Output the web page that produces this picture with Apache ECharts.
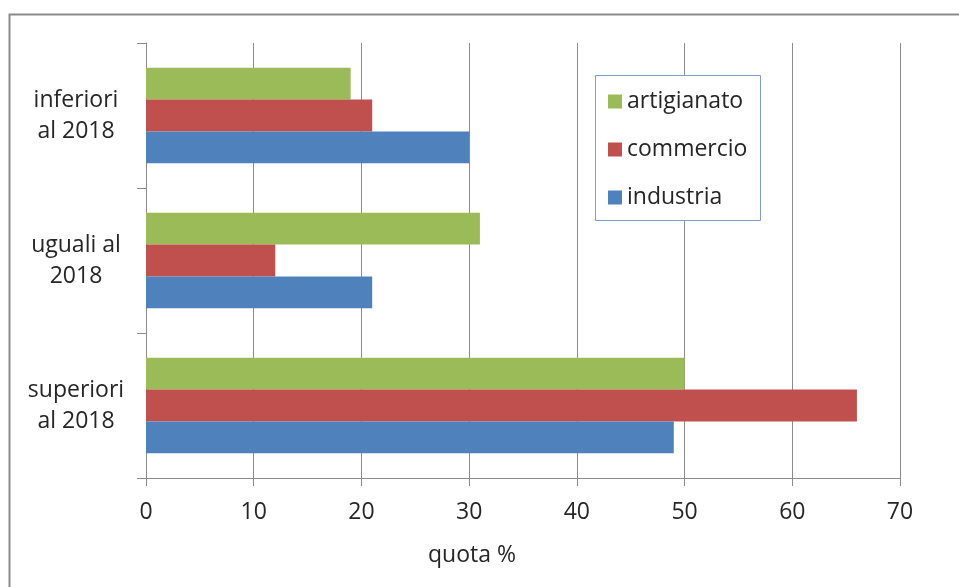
<!DOCTYPE html>
<html>
<head>
<meta charset="utf-8">
<script src="https://cdn.jsdelivr.net/npm/echarts@6/dist/echarts.min.js"></script>
<style>
  html, body { margin: 0; padding: 0; background: #fff; }
  #chart { width: 959px; height: 587px; }
</style>
</head>
<body>
<div id="chart"></div>
<script>
// Categories listed bottom to top
const categories = ['superiori\nal 2018', 'uguali al\n2018', 'inferiori\nal 2018'];
const industria = [49, 21, 30];
const commercio = [66, 12, 21];
const artigianato = [50, 31, 19];
const xTicks = { min: 0, max: 70, interval: 10 };

const FONT = 'Open Sans';
const TEXT = '#262626';
const GRID_GREY = '#8c8c8c';

const chart = echarts.init(document.getElementById('chart'));
chart.setOption({
  animation: false,
  backgroundColor: '#fff',
  textStyle: { fontFamily: FONT },
  graphic: [{
    type: 'rect',
    shape: { x: 9.5, y: 14.5, width: 980, height: 600 },
    style: { fill: 'none', stroke: '#8a8a8a', lineWidth: 2 },
    silent: true
  }, {
    type: 'rect',
    shape: { x: 595.5, y: 75.5, width: 165, height: 145 },
    style: { fill: '#fff', stroke: '#7f9fcf', lineWidth: 1 },
    z: 10,
    silent: true
  }],
  grid: { left: 146, right: 59, top: 43, bottom: 109, containLabel: false },
  legend: {
    data: ['artigianato', 'commercio', 'industria'],
    orient: 'vertical',
    left: 603,
    top: 85,
    itemWidth: 14,
    itemHeight: 14,
    itemGap: 25,
    icon: 'rect',
    z: 20,
    textStyle: { fontFamily: FONT, fontSize: 23, color: TEXT }
  },
  xAxis: {
    type: 'value',
    min: xTicks.min,
    max: xTicks.max,
    interval: xTicks.interval,
    name: 'quota %',
    nameLocation: 'middle',
    nameGap: 66,
    nameTextStyle: { fontFamily: FONT, fontSize: 23, color: TEXT, padding: [0, 102, 0, 0] },
    axisLine: { show: true, lineStyle: { color: GRID_GREY, width: 1 } },
    axisTick: { show: true, length: 8, lineStyle: { color: GRID_GREY } },
    axisLabel: { fontFamily: FONT, fontSize: 23, color: TEXT, margin: 23 },
    splitLine: { show: true, lineStyle: { color: GRID_GREY, width: 1 } }
  },
  yAxis: {
    type: 'category',
    data: categories,
    axisLine: { show: true, lineStyle: { color: GRID_GREY, width: 1 } },
    axisTick: { show: true, length: 9, lineStyle: { color: GRID_GREY } },
    axisLabel: {
      fontFamily: FONT, fontSize: 23, color: TEXT,
      align: 'center', margin: 70, lineHeight: 31
    }
  },
  // Within each group the first series is drawn at the top
  series: [
    { name: 'artigianato', type: 'bar', data: artigianato, itemStyle: { color: '#9BBB59' }, barGap: '0%', barCategoryGap: '34%' },
    { name: 'commercio', type: 'bar', data: commercio, itemStyle: { color: '#C0504D' } },
    { name: 'industria', type: 'bar', data: industria, itemStyle: { color: '#4F81BD' } }
  ]
});
</script>
</body>
</html>
